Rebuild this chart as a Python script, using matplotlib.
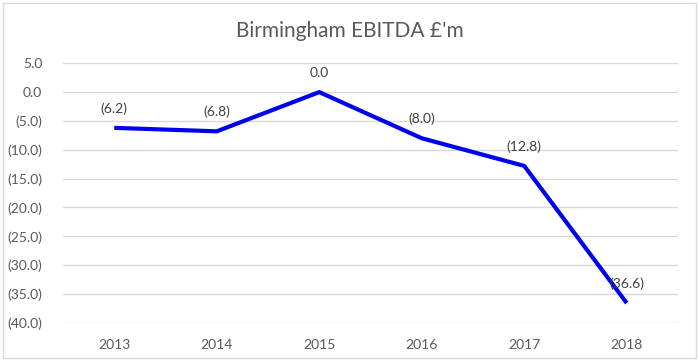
import matplotlib
matplotlib.use("Agg")
import matplotlib.pyplot as plt
from matplotlib.patches import Rectangle

years = ["2013", "2014", "2015", "2016", "2017", "2018"]
ebitda = [-6.2, -6.8, 0.0, -8.0, -12.8, -36.6]
yticks = [5, 0, -5, -10, -15, -20, -25, -30, -35, -40]

def fmt(v):
    if v < 0:
        return f"({abs(v):.1f})"
    return f"{v:.1f}"

plt.rcParams['font.family'] = ['Lato', 'DejaVu Sans']
txt = '#595959'
grid = '#D9D9D9'

fig = plt.figure(figsize=(7, 3.62), dpi=100)
fig.patches.append(Rectangle((3/700, 4/362), 693/700, 355/362, transform=fig.transFigure,
                             fill=False, edgecolor='#D9D9D9', linewidth=1))
ax = fig.add_axes([63/700, 1 - 322.7/362, 615/700, 259.4/362])
x = list(range(len(years)))
ax.plot(x, ebitda, color='#0000F0', linewidth=3, solid_capstyle='butt', zorder=3)
for xi, v in zip(x, ebitda):
    ax.annotate(fmt(v), (xi, v), xytext=(0, 14), textcoords='offset points',
                ha='center', va='center', fontsize=10, color='#404040')
ax.set_xlim(-0.5, len(years) - 0.5)
ax.set_ylim(-40, 5)
ax.set_yticks(yticks)
ax.set_yticklabels([fmt(float(t)) for t in yticks])
ax.set_xticks(x)
ax.set_xticklabels(years)
ax.tick_params(axis='both', length=0, labelsize=10, colors=txt)
ax.tick_params(axis='y', pad=15)
ax.tick_params(axis='x', pad=12)
for s in ax.spines.values():
    s.set_visible(False)
ax.grid(axis='y', color=grid, linewidth=1)
ax.set_axisbelow(True)
fig.text(0.5, 1 - 31/362, "Birmingham EBITDA £'m", ha='center', va='center', fontsize=15, color=txt)
fig.savefig("out.png", dpi=100)
